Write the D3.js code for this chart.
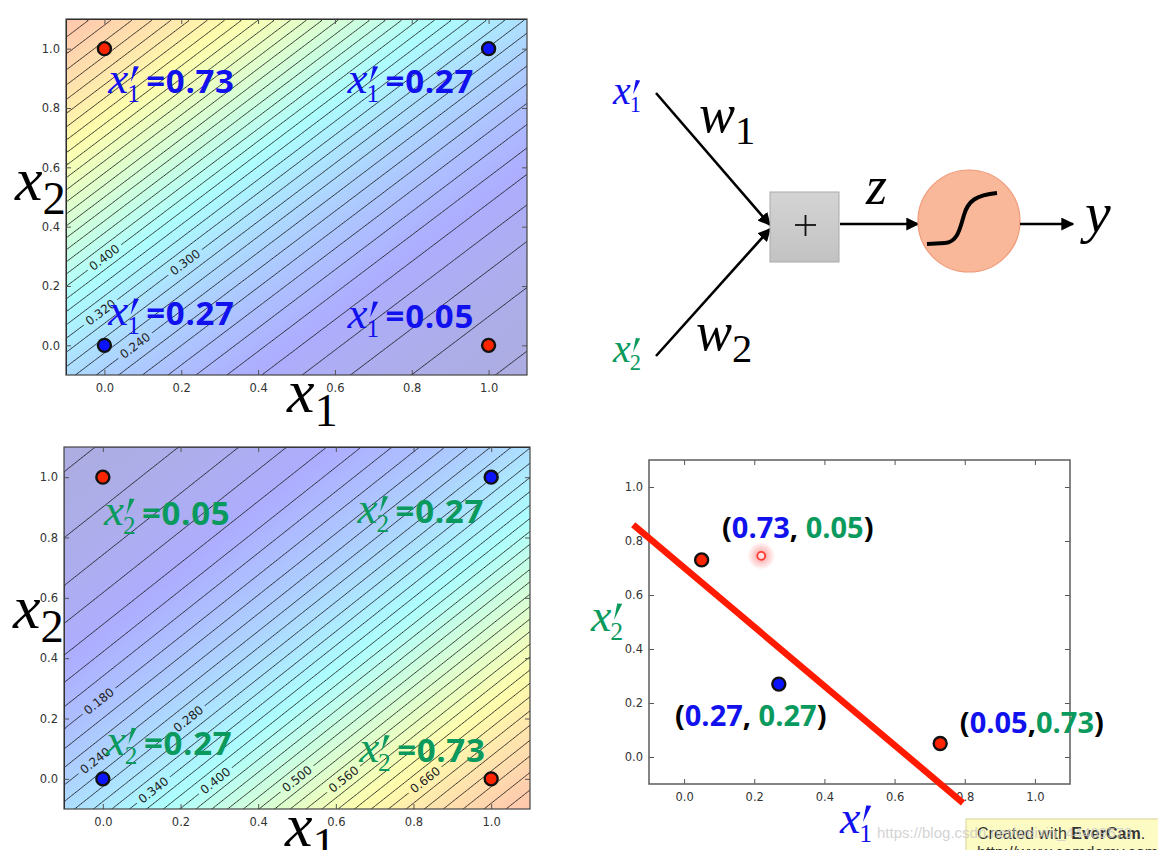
<!DOCTYPE html>
<html>
<head>
<script src="https://d3js.org/d3.v7.min.js"></script>
<style>
  body { margin: 0; background: #fff; }
  svg { display: block; }
  .tick text { font-family: "DejaVu Sans", sans-serif; font-size: 11.5px; fill: #333; }
  .tick line { stroke: #555; }
</style>
</head>
<body>
<svg width="1158" height="850"></svg>
<script>
// ---- data ----
// XOR inputs (x1, x2) and their classes
const inputs = [[0, 0], [0, 1], [1, 0], [1, 1]];
const inputClass = ["blue", "red", "red", "blue"];
// hidden unit outputs at those inputs
const x1Prime = [0.27, 0.73, 0.05, 0.27];
const x2Prime = [0.27, 0.05, 0.73, 0.27];
const tickValues = [0, 0.2, 0.4, 0.6, 0.8, 1.0];
const axisDomain = [-0.1, 1.1];
const contourLevels = d3.range(0.04, 0.81, 0.02);
// inline contour labels: level and x1 where the label sits
const topLabelLevels = [0.40, 0.30, 0.32, 0.24];
const topLabelX = [0.0, 0.21, -0.01, 0.08];
const bottomLabelLevels = [0.18, 0.28, 0.24, 0.34, 0.40, 0.50, 0.56, 0.66];
const bottomLabelX = [-0.01, 0.22, -0.02, 0.13, 0.29, 0.50, 0.62, 0.83];
// "x'=value" annotations, same order as inputs (data position of left / baseline)
const topNotePos = [[0.01, 0.067], [0.01, 0.85], [0.633, 0.057], [0.633, 0.85]];
const bottomNotePos = [[0.008, 0.08], [0.003, 0.84], [0.66, 0.056], [0.656, 0.848]];
// transformed points (x1', x2') and the separating line
const hiddenPts = [[0.27, 0.27], [0.73, 0.05], [0.05, 0.73]];
const hiddenClass = ["blue", "red", "red"];
const hiddenNotePos = [[-0.026, 0.115], [0.108, 0.81], [0.786, 0.089]];
const cursorPt = [0.22, 0.745];
const boundary = [[-0.145, 0.86], [0.795, -0.17]];

const BLUE_TXT = "#1111ee", GREEN_TXT = "#0a9a5e";
const PT_COL = { red: "#ff2400", blue: "#0c14ff" };
const fmt1 = d3.format(".1f"), fmt2 = d3.format(".2f"), fmt3 = d3.format(".3f");

const svg = d3.select("svg");
const defs = svg.append("defs");

const logit = p => Math.log(p / (1 - p));
const sigmoid = z => 1 / (1 + Math.exp(-z));
function jet(t) {
  const c = v => Math.max(0, Math.min(1, v));
  return [c(1.5 - Math.abs(4 * t - 3)), c(1.5 - Math.abs(4 * t - 2)), c(1.5 - Math.abs(4 * t - 1))];
}
function jetWash(t, a) {
  const [r, g, b] = jet(t);
  return d3.rgb(255 * (1 - a) + 255 * a * r, 255 * (1 - a) + 255 * a * g, 255 * (1 - a) + 255 * a * b);
}

// ticks pointing inwards on all four sides, matplotlib classic look
function drawAxes(g, x, y, w, h) {
  g.append("g").attr("transform", `translate(0,${h})`)
    .call(d3.axisBottom(x).tickValues(tickValues).tickSize(-5).tickPadding(9).tickFormat(fmt1));
  g.append("g").call(d3.axisTop(x).tickValues(tickValues).tickSize(-5).tickFormat(""));
  g.append("g")
    .call(d3.axisLeft(y).tickValues(tickValues).tickSize(-5).tickPadding(6).tickFormat(fmt1));
  g.append("g").attr("transform", `translate(${w},0)`)
    .call(d3.axisRight(y).tickValues(tickValues).tickSize(-5).tickFormat(""));
  g.selectAll(".domain").remove();
  g.append("rect").attr("class", "frame").attr("width", w).attr("height", h)
    .attr("fill", "none").attr("stroke", "#444").attr("stroke-width", 1.2);
}

function drawPoint(g, px, py, cls) {
  g.append("circle").attr("cx", px).attr("cy", py).attr("r", 6.5)
    .attr("fill", PT_COL[cls]).attr("stroke", "#111").attr("stroke-width", 2.4);
}

// italic x with prime and subscript, e.g. x'_1
function primedX(t, px, size, sub) {
  const py = +t.attr("y");
  t.append("tspan").attr("x", px).attr("font-family", "Liberation Serif").attr("font-style", "italic")
    .attr("font-size", size).text("x");
  t.append("tspan").attr("x", px + size * 0.42).attr("dy", size * 0.2).attr("font-family", "Liberation Serif")
    .attr("font-size", size * 0.56).text(sub);
  d3.select(t.node().parentNode).append("path")
    .attr("d", `M${px + size * 0.57},${py - size * 0.6} L${px + size * 0.68},${py - size * 0.59} L${px + size * 0.5},${py - size * 0.24}Z`)
    .attr("fill", t.attr("fill"));
}

function axisName(g, px, py, letter, sub, size, color) {
  const t = g.append("text").attr("x", px).attr("y", py).attr("fill", color || "#000");
  t.append("tspan").attr("font-family", "Liberation Serif").attr("font-style", "italic").attr("font-size", size).text(letter);
  t.append("tspan").attr("dy", size * 0.22).attr("font-family", "Liberation Serif").attr("font-size", size * 0.75).text(sub);
}

function contourPanel(cfg) {
  const { left, top, width: w, height: h, out, sub, color, labelLevels, labelX, notePos, id } = cfg;
  const g = svg.append("g").attr("transform", `translate(${left},${top})`);
  const x = d3.scaleLinear().domain(axisDomain).range([0, w]);
  const y = d3.scaleLinear().domain(axisDomain).range([h, 0]);

  // logistic plane through the corner outputs
  const b = logit(out[0]), w1 = logit(out[2]) - b, w2 = logit(out[1]) - b;
  const zAt = (px, py) => b + w1 * x.invert(px) + w2 * y.invert(py);

  // background: colour wash along the gradient direction
  const gx = w1 / (w / 1.2), gy = -w2 / (h / 1.2);
  const cornersPx = [[0, 0], [w, 0], [0, h], [w, h]];
  const zs = cornersPx.map(p => zAt(p[0], p[1]));
  const iMin = d3.minIndex(zs), zMin = zs[iMin], zMax = d3.max(zs);
  const k = (zMax - zMin) / (gx * gx + gy * gy);
  const A = cornersPx[iMin], B = [A[0] + k * gx, A[1] + k * gy];
  const grad = defs.append("linearGradient").attr("id", "wash" + id)
    .attr("gradientUnits", "userSpaceOnUse")
    .attr("x1", A[0]).attr("y1", A[1]).attr("x2", B[0]).attr("y2", B[1]);
  d3.range(0, 1.0001, 0.02).forEach(s => {
    const v = sigmoid(zMin + s * (zMax - zMin));
    grad.append("stop").attr("offset", s).attr("stop-color", jetWash(v, 0.32));
  });
  g.append("rect").attr("width", w).attr("height", h).attr("fill", `url(#wash${id})`);

  defs.append("clipPath").attr("id", "clip" + id).append("rect").attr("width", w).attr("height", h);

  // label geometry
  const lineAngle = Math.atan(-gx / gy) * 180 / Math.PI;
  const labs = labelLevels.map((lv, i) => {
    const a = labelX[i];
    const c = (logit(lv) - b - w1 * a) / w2;
    return { lv, px: x(a), py: y(c) };
  });
  const mask = defs.append("mask").attr("id", "mask" + id).attr("maskUnits", "userSpaceOnUse")
    .attr("x", 0).attr("y", 0).attr("width", w).attr("height", h);
  mask.append("rect").attr("width", w).attr("height", h).attr("fill", "#fff");
  labs.forEach(d => mask.append("rect").attr("x", -21).attr("y", -6).attr("width", 42).attr("height", 12)
    .attr("fill", "#000").attr("transform", `translate(${d.px},${d.py}) rotate(${lineAngle})`));

  // contour lines
  const cs = 3, n = Math.ceil(w / cs) + 1, m = Math.ceil(h / cs) + 1;
  const vals = new Array(n * m);
  for (let j = 0; j < m; j++) for (let i = 0; i < n; i++) vals[i + j * n] = sigmoid(zAt((i + 0.5) * cs, (j + 0.5) * cs));
  const contours = d3.contours().size([n, m]).thresholds(contourLevels)(vals);
  const path = d3.geoPath(d3.geoTransform({ point(px, py) { this.stream.point(px * cs, py * cs); } }));
  g.append("g").attr("clip-path", `url(#clip${id})`).attr("mask", `url(#mask${id})`)
    .selectAll("path").data(contours).join("path")
    .attr("d", path).attr("fill", "none").attr("stroke", "#111").attr("stroke-opacity", 0.9).attr("stroke-width", 0.9);

  g.selectAll("text.clab").data(labs).join("text").attr("class", "clab")
    .attr("transform", d => `translate(${d.px},${d.py}) rotate(${lineAngle})`)
    .attr("text-anchor", "middle").attr("dy", "0.35em")
    .attr("font-family", "DejaVu Sans").attr("font-size", 12).attr("fill", "#222")
    .text(d => fmt3(d.lv));

  drawAxes(g, x, y, w, h);

  inputs.forEach((p, i) => drawPoint(g, x(p[0]), y(p[1]), inputClass[i]));

  // "x'=value" notes
  inputs.forEach((p, i) => {
    const [a, c] = notePos[i];
    const px = x(a), py = y(c);
    const t = g.append("text").attr("y", py).attr("fill", color);
    primedX(t, px, 45, sub);
    t.append("tspan").attr("x", px + 38).attr("dy", -9).attr("font-family", "Open Sans").attr("font-weight", 700)
      .attr("font-size", 33).attr("letter-spacing", 0.7).text("=" + fmt2(out[i]));
  });

  axisName(g, -51, 181, "x", "2", 62);
  axisName(g, 221, h + 37, "x", "1", 62);
}

contourPanel({ id: "a", left: 66, top: 19, width: 461, height: 356, out: x1Prime, sub: "1", color: BLUE_TXT,
  labelLevels: topLabelLevels, labelX: topLabelX, notePos: topNotePos });
contourPanel({ id: "b", left: 64, top: 447, width: 466, height: 362, out: x2Prime, sub: "2", color: GREEN_TXT,
  labelLevels: bottomLabelLevels, labelX: bottomLabelX, notePos: bottomNotePos });

// ---- scatter of hidden outputs ----
(function () {
  const left = 649, top = 460, w = 421, h = 324;
  const g = svg.append("g").attr("transform", `translate(${left},${top})`);
  const x = d3.scaleLinear().domain(axisDomain).range([0, w]);
  const y = d3.scaleLinear().domain(axisDomain).range([h, 0]);
  drawAxes(g, x, y, w, h);
  g.select("rect.frame").attr("stroke", "#666").attr("stroke-width", 1.6);

  g.append("line")
    .attr("x1", x(boundary[0][0])).attr("y1", y(boundary[0][1]))
    .attr("x2", x(boundary[1][0])).attr("y2", y(boundary[1][1]))
    .attr("stroke", "#ff1a00").attr("stroke-width", 6.5);

  hiddenPts.forEach((p, i) => drawPoint(g, x(p[0]), y(p[1]), hiddenClass[i]));

  const glow = defs.append("radialGradient").attr("id", "glow");
  glow.append("stop").attr("offset", 0).attr("stop-color", "#ff4040").attr("stop-opacity", 0.55);
  glow.append("stop").attr("offset", 1).attr("stop-color", "#ff4040").attr("stop-opacity", 0);
  g.append("circle").attr("cx", x(cursorPt[0])).attr("cy", y(cursorPt[1])).attr("r", 14).attr("fill", "url(#glow)");
  g.append("circle").attr("cx", x(cursorPt[0])).attr("cy", y(cursorPt[1])).attr("r", 4)
    .attr("fill", "#ffe0e0").attr("stroke", "#ff3a30").attr("stroke-width", 1.8);

  hiddenPts.forEach((p, i) => {
    const [a, c] = hiddenNotePos[i];
    const t = g.append("text").attr("x", x(a)).attr("y", y(c))
      .attr("font-family", "Open Sans").attr("font-weight", 700).attr("font-size", 29);
    const sep = i === 2 ? "," : ", ";
    t.append("tspan").attr("fill", "#000").text("(");
    t.append("tspan").attr("fill", BLUE_TXT).text(fmt2(p[0]));
    t.append("tspan").attr("fill", "#000").text(sep);
    t.append("tspan").attr("fill", GREEN_TXT).text(fmt2(p[1]));
    t.append("tspan").attr("fill", "#000").text(")");
  });

  const ty = g.append("text").attr("y", 171).attr("fill", GREEN_TXT);
  primedX(ty, -58, 46, "2");
  const tx = g.append("text").attr("y", 373).attr("fill", BLUE_TXT);
  primedX(tx, 191, 46, "1");
})();

// ---- neuron diagram ----
(function () {
  const g = svg.append("g");
  defs.append("marker").attr("id", "arr").attr("viewBox", "0 0 10 10").attr("refX", 9).attr("refY", 5)
    .attr("markerWidth", 5).attr("markerHeight", 5).attr("orient", "auto")
    .append("path").attr("d", "M0,0L10,5L0,10z").attr("fill", "#000");

  const edge = (x1, y1, x2, y2) => g.append("line").attr("x1", x1).attr("y1", y1).attr("x2", x2).attr("y2", y2)
    .attr("stroke", "#000").attr("stroke-width", 2.6).attr("marker-end", "url(#arr)");
  edge(656, 93, 770, 225);
  edge(656, 356, 770, 229);

  const boxG = defs.append("linearGradient").attr("id", "boxg").attr("x1", 0).attr("y1", 0).attr("x2", 0).attr("y2", 1);
  boxG.append("stop").attr("offset", 0).attr("stop-color", "#d4d4d4");
  boxG.append("stop").attr("offset", 1).attr("stop-color", "#c2c2c2");
  g.append("rect").attr("x", 770).attr("y", 192).attr("width", 69).attr("height", 70)
    .attr("fill", "url(#boxg)").attr("stroke", "#aaa").attr("stroke-width", 1);
  g.append("line").attr("x1", 795).attr("x2", 816).attr("y1", 225).attr("y2", 225).attr("stroke", "#111").attr("stroke-width", 1.8);
  g.append("line").attr("x1", 805.5).attr("x2", 805.5).attr("y1", 215).attr("y2", 236).attr("stroke", "#111").attr("stroke-width", 1.8);

  edge(840, 224, 918, 224);
  g.append("circle").attr("cx", 969).attr("cy", 221).attr("r", 51)
    .attr("fill", "#f9b899").attr("stroke", "#f09a78").attr("stroke-width", 1.2);
  g.append("path").attr("d", "M927,244 L945,243 C958,242 960,228 964,215 C968,201 976,195 997,193")
    .attr("fill", "none").attr("stroke", "#000").attr("stroke-width", 4);
  edge(1020, 224, 1073, 224);

  const t1 = g.append("text").attr("y", 104).attr("fill", BLUE_TXT);
  primedX(t1, 613, 40, "1");
  const t2 = g.append("text").attr("y", 362).attr("fill", GREEN_TXT);
  primedX(t2, 613, 40, "2");
  axisName(g, 699, 132, "w", "1", 54);
  axisName(g, 696, 350, "w", "2", 54);
  g.append("text").attr("x", 866).attr("y", 204).attr("font-family", "Liberation Serif").attr("font-style", "italic")
    .attr("font-size", 54).text("z");
  g.append("text").attr("x", 1085).attr("y", 232).attr("font-family", "Liberation Serif").attr("font-style", "italic")
    .attr("font-size", 58).text("y");
})();

// ---- recorder watermark ----
(function () {
  const g = svg.append("g");
  g.append("rect").attr("x", 966).attr("y", 819).attr("width", 200).attr("height", 40)
    .attr("fill", "#fdfbc4").attr("stroke", "#d8d49a");
  const t = g.append("text").attr("x", 977).attr("y", 839).attr("font-family", "Liberation Sans")
    .attr("font-size", 16).attr("fill", "#333");
  t.append("tspan").text("Created with ");
  t.append("tspan").attr("font-weight", 700).text("EverCam");
  t.append("tspan").text(".");
  g.append("text").attr("x", 977).attr("y", 858).attr("font-family", "Liberation Sans")
    .attr("font-size", 16).attr("fill", "#333").text("http://www.camdemy.com");
  g.append("text").attr("x", 877).attr("y", 838).attr("font-family", "Liberation Sans")
    .attr("font-size", 15).attr("fill", "#c8c8c8").attr("fill-opacity", 0.8).text("https://blog.csdn.net/weixin_44409573");
})();
</script>
</body>
</html>
